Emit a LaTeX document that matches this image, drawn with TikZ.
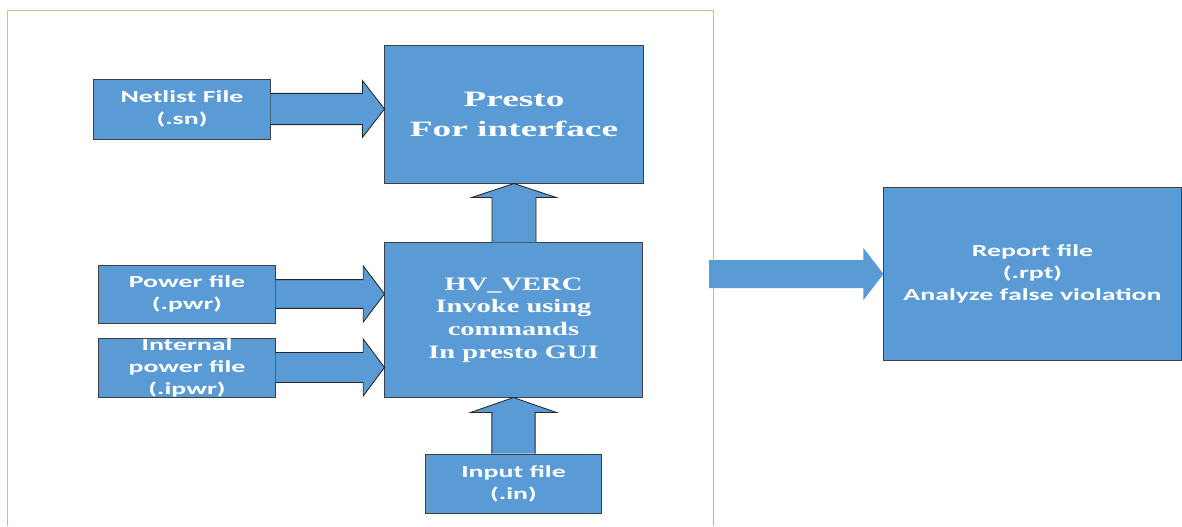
\documentclass[tikz,border=0pt]{standalone}
\usepackage{fontspec}
\usetikzlibrary{calc}

\newfontfamily\labelfont[FakeStretch=1.65]{Carlito}
\newfontfamily\titlefont[FakeStretch=1.7]{Liberation Serif}
\newfontfamily\hvfont[FakeStretch=1.5]{Liberation Serif}

\definecolor{boxblue}{HTML}{5B9BD5}
\definecolor{framegreen}{HTML}{A9D08E}

\tikzset{
  lbl/.style={font=\labelfont\bfseries\fontsize{12}{15.6}\selectfont},
  ttl/.style={font=\titlefont\bfseries\fontsize{15.6}{21}\selectfont},
  hvtxt/.style={font=\hvfont\bfseries\fontsize{13.5}{16.2}\selectfont},
  blockarrow/.style={fill=boxblue, draw=black!85, line width=0.6pt, line join=miter},
}

\newcommand{\rightblock}[6][]{%
  \path[#1] let \p1=(#2), \p2=(#3) in
    (\x1,\y2+#4) -- (\x2-#6,\y2+#4) -- (\x2-#6,\y2+#5) -- (\x2,\y2)
    -- (\x2-#6,\y2-#5) -- (\x2-#6,\y2-#4) -- (\x1,\y2-#4);}
\newcommand{\upblock}[6][]{%
  \path[#1] let \p1=(#2), \p2=(#3) in
    (\x2-#4,\y1) -- (\x2-#4,\y2-#6) -- (\x2-#5,\y2-#6) -- (\x2,\y2)
    -- (\x2+#5,\y2-#6) -- (\x2+#4,\y2-#6) -- (\x2+#4,\y1);}

\begin{document}
\begin{tikzpicture}[x=0.025cm, y=-0.025cm]
            \useasboundingbox (0,0) rectangle (1182,526);
            \draw[framegreen, line width=0.7pt] (7,526) -- (7,10) -- (713,10) -- (713,526);

            \begin{scope}[every node/.style={fill=boxblue, draw=black!75, line width=0.7pt, text=white, inner sep=0pt, align=center}]
                \node[lbl, minimum width=4.4cm, minimum height=1.5cm] (netlist) at (182,109) {Netlist File\\(.sn)};
                \node[ttl, minimum width=6.45cm, minimum height=3.425cm] (presto) at (514,114.5) {Presto\\For interface};

                \node[lbl, minimum width=4.4cm, minimum height=1.45cm] (power) at (187,294) {Power file\\(.pwr)};
                \node[lbl, minimum width=4.4cm, minimum height=1.475cm] (ipower) at (187,367.5) {Internal\\power file\\(.ipwr)};
                \node[hvtxt, minimum width=6.425cm, minimum height=3.85cm] (hverc) at (513.5,320) {HV\_VERC\\Invoke using\\commands\\In presto GUI};

                \node[lbl, minimum width=4.375cm, minimum height=1.475cm] (input) at (513.5,483.5) {Input file\\(.in)};

                \node[lbl, minimum width=7.425cm, minimum height=4.3cm] (report) at (1032.5,274) {Report file\\(.rpt)\\Analyze false violation};
            \end{scope}

            \coordinate (rpttail) at (709,274);

            \begin{scope}
                \rightblock[blockarrow]{netlist.east}{presto.west |- netlist.east}{0.39cm}{0.71cm}{0.55cm}
                \rightblock[blockarrow]{power.east}{hverc.west |- power.east}{0.36cm}{0.7cm}{0.53cm}
                \rightblock[blockarrow]{ipower.east}{hverc.west |- ipower.east}{0.375cm}{0.71cm}{0.53cm}
                \upblock[blockarrow]{hverc.north}{presto.south}{0.55cm}{1.06cm}{0.35cm}
                \upblock[blockarrow]{input.north}{hverc.south}{0.54cm}{1.075cm}{0.375cm}
                \rightblock[fill=boxblue]{rpttail}{report.west}{0.35cm}{0.65cm}{0.5cm}
            \end{scope}
        \end{tikzpicture}
\end{document}
